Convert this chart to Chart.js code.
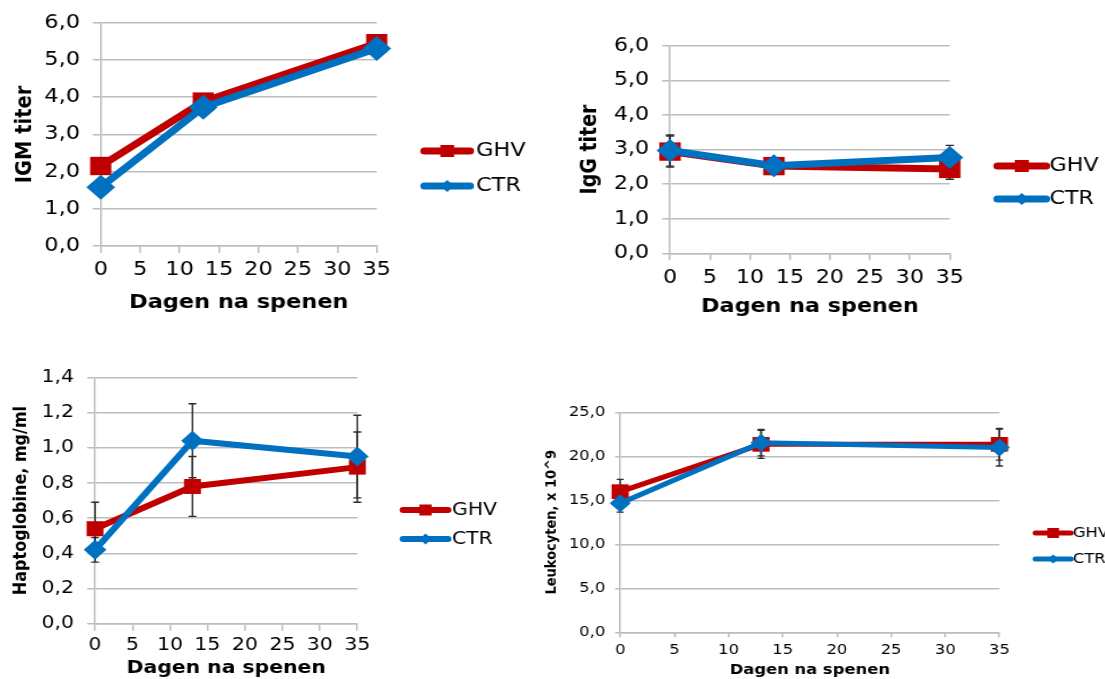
<!DOCTYPE html>
<html>
<head>
<meta charset="utf-8">
<script src="https://cdn.jsdelivr.net/npm/chart.js@4.4.1/dist/chart.umd.min.js"></script>
<style>
  html, body { margin: 0; padding: 0; background: #fff; }
  body { width: 1105px; height: 679px; overflow: hidden; position: relative; }
  .panel { position: absolute; transform-origin: 0 0; }
  .panel canvas { display: block; }
</style>
</head>
<body>
<div class="panel" id="p1"><canvas id="c1"></canvas></div>
<div class="panel" id="p2"><canvas id="c2"></canvas></div>
<div class="panel" id="p3"><canvas id="c3"></canvas></div>
<div class="panel" id="p4"><canvas id="c4"></canvas></div>
<script>
// Sampling days after weaning
const days = [0, 13, 35];
const dayTicks = [0, 5, 10, 15, 20, 25, 30, 35];
const seriesNames = ['GHV', 'CTR'];

// IgM titer
const igmGHV = [2.15, 3.88, 5.45];
const igmCTR = [1.58, 3.73, 5.31];
const igmTicks = ['0,0', '1,0', '2,0', '3,0', '4,0', '5,0', '6,0'];

// IgG titer (mean and error)
const iggGHV = [2.94, 2.52, 2.44];
const iggCTR = [2.97, 2.53, 2.77];
const iggGHVErr = [0.45, 0.15, 0.30];
const iggCTRErr = [0.45, 0.15, 0.35];
const iggTicks = ['0,0', '1,0', '2,0', '3,0', '4,0', '5,0', '6,0'];

// Haptoglobin, mg/ml (mean and error)
const haptoGHV = [0.54, 0.78, 0.89];
const haptoCTR = [0.42, 1.04, 0.95];
const haptoGHVErr = [0.15, 0.17, 0.20];
const haptoCTRErr = [0.07, 0.21, 0.235];
const haptoTicks = ['0,0', '0,2', '0,4', '0,6', '0,8', '1,0', '1,2', '1,4'];

// Leukocytes, x 10^9 (mean and error)
const leukoGHV = [15.98, 21.36, 21.36];
const leukoCTR = [14.66, 21.55, 21.0];
const leukoGHVErr = [1.4, 1.6, 1.8];
const leukoCTRErr = [1.0, 1.5, 2.1];
const leukoTicks = ['0,0', '5,0', '10,0', '15,0', '20,0', '25,0'];

const RED = '#C00000';
const BLUE = '#0070C0';
const GRID = '#bdbdbd';
const FONT = "'DejaVu Sans', Verdana, sans-serif";

Chart.defaults.font.family = FONT;
Chart.defaults.color = '#000';

// Vertical error bars with caps, drawn underneath the lines and markers
const errorBars = {
  id: 'errorBars',
  beforeDatasetsDraw(chart, args, opts) {
    const ctx = chart.ctx, xs = chart.scales.x, ys = chart.scales.y;
    ctx.save();
    ctx.strokeStyle = opts.color || '#333';
    ctx.lineWidth = opts.width || 1.3;
    chart.data.datasets.forEach(ds => {
      if (!ds.errors) return;
      ds.data.forEach((p, i) => {
        const e = ds.errors[i];
        if (!e) return;
        const x = xs.getPixelForValue(p.x);
        const yt = ys.getPixelForValue(p.y + e);
        const yb = ys.getPixelForValue(p.y - e);
        const c = opts.cap || 3.5;
        ctx.beginPath();
        ctx.moveTo(x, yt); ctx.lineTo(x, yb);
        ctx.moveTo(x - c, yt); ctx.lineTo(x + c, yt);
        ctx.moveTo(x - c, yb); ctx.lineTo(x + c, yb);
        ctx.stroke();
      });
    });
    ctx.restore();
  }
};

// Legend placed to the right of the plot: line sample with marker, then the name
const sideLegend = {
  id: 'sideLegend',
  afterDraw(chart, args, o) {
    if (!o || !o.ys) return;
    const ctx = chart.ctx;
    ctx.save();
    chart.data.datasets.forEach((ds, i) => {
      const y = o.ys[i];
      ctx.strokeStyle = ds.borderColor;
      ctx.lineWidth = o.lineWidth;
      ctx.lineCap = 'round';
      ctx.beginPath();
      ctx.moveTo(o.x0, y); ctx.lineTo(o.x1, y);
      ctx.stroke();
      const cx = (o.x0 + o.x1) / 2;
      ctx.fillStyle = ds.borderColor;
      ctx.beginPath();
      if (ds.pointStyle === 'rect') {
        ctx.rect(cx - o.sq / 2, y - o.sq / 2, o.sq, o.sq);
      } else {
        ctx.moveTo(cx, y - o.dia); ctx.lineTo(cx + o.dia, y);
        ctx.lineTo(cx, y + o.dia); ctx.lineTo(cx - o.dia, y);
        ctx.closePath();
      }
      ctx.fill();
      ctx.fillStyle = '#000';
      ctx.font = o.size + 'px ' + FONT;
      ctx.textAlign = 'left';
      ctx.textBaseline = 'middle';
      ctx.fillText(ds.label, o.tx, y);
    });
    ctx.restore();
  }
};

function points(values) {
  return values.map((v, i) => ({ x: days[i], y: v }));
}

function parseTick(label) {
  return parseFloat(label.replace(',', '.'));
}

function makeChart(spec, ghv, ctr, ghvErr, ctrErr, yLabels) {
  const wrap = document.getElementById(spec.wrap);
  wrap.style.left = spec.left + 'px';
  wrap.style.top = spec.top + 'px';
  wrap.style.transform = 'scaleX(' + spec.sx + ')';
  const canvas = document.getElementById(spec.canvas);
  canvas.width = spec.w; canvas.height = spec.h;
  canvas.style.width = spec.w + 'px'; canvas.style.height = spec.h + 'px';
  const a = spec.area;
  const yValues = yLabels.map(parseTick);

  return new Chart(canvas, {
    type: 'line',
    data: {
      datasets: [
        {
          label: seriesNames[0], data: points(ghv), errors: ghvErr,
          borderColor: RED, backgroundColor: RED, borderWidth: spec.lw,
          pointStyle: 'rect', pointRadius: spec.sqR, pointHoverRadius: spec.sqR,
          pointBackgroundColor: RED, pointBorderWidth: 0, order: 1, clip: false
        },
        {
          label: seriesNames[1], data: points(ctr), errors: ctrErr,
          borderColor: BLUE, backgroundColor: BLUE, borderWidth: spec.lw,
          pointStyle: 'rectRot', pointRadius: spec.diaR, pointHoverRadius: spec.diaR,
          pointBackgroundColor: BLUE, pointBorderWidth: 0, order: 0, clip: false
        }
      ]
    },
    options: {
      responsive: false,
      animation: false,
      devicePixelRatio: 1,
      events: [],
      layout: { padding: { left: 0, top: a.t, right: spec.w - a.r, bottom: 0 } },
      plugins: {
        legend: { display: false },
        tooltip: { enabled: false },
        errorBars: { color: '#2b2b2b', width: 1.4, cap: spec.cap },
        sideLegend: spec.legend
      },
      scales: {
        x: {
          type: 'linear', min: 0, max: 35,
          afterBuildTicks: s => { s.ticks = dayTicks.map(v => ({ value: v })); },
          afterFit: s => { s.height = spec.h - a.b; },
          grid: { drawOnChartArea: false, drawTicks: true, tickLength: spec.xTick[0], color: GRID, lineWidth: 1.5 },
          border: { display: true, color: GRID, width: 1.5 },
          ticks: { padding: spec.xTick[1], maxRotation: 0, autoSkip: false, font: { size: spec.tickSize }, color: '#000' },
          title: { display: true, text: 'Dagen na spenen', font: { size: spec.xTitleSize, weight: 'bold' }, padding: { top: 0, bottom: spec.xTitlePad }, color: '#000' }
        },
        y: {
          type: 'linear', min: yValues[0], max: yValues[yValues.length - 1],
          afterBuildTicks: s => { s.ticks = yValues.map(v => ({ value: v })); },
          afterFit: s => { s.width = a.l; },
          grid: { drawTicks: true, tickLength: spec.yTick[0], color: GRID, lineWidth: 1.5 },
          border: { display: true, color: GRID, width: 1.5 },
          ticks: { padding: spec.yTick[1], autoSkip: false, font: { size: spec.tickSize }, color: '#000',
                   callback: (v, i) => yLabels[i] },
          title: { display: true, text: spec.yTitle, font: { size: spec.yTitleSize, weight: 'bold' }, padding: { top: spec.yTitlePad, bottom: 0 }, color: '#000' }
        }
      }
    },
    plugins: [errorBars, sideLegend]
  });
}

makeChart({
  wrap: 'p1', canvas: 'c1', left: 0, top: 0, sx: 1.15, w: 470, h: 330,
  area: { l: 87.6, r: 327.6, t: 21, b: 246 },
  yTick: [7, 11], xTick: [7, 5.3], tickSize: 19.5, xTitleSize: 19.5, yTitleSize: 19.5,
  yTitle: 'IGM titer', yTitlePad: 10, xTitlePad: 15.3,
  lw: 7, sqR: 13, diaR: 12.5, cap: 3.5,
  legend: { x0: 369, x1: 408.7, tx: 414, ys: [151, 186], size: 19.5, lineWidth: 7, sq: 12, dia: 6 }
}, igmGHV, igmCTR, null, null, igmTicks);

makeChart({
  wrap: 'p2', canvas: 'c2', left: 575, top: 0, sx: 1.17, w: 455, h: 330,
  area: { l: 81.2, r: 320.3, t: 45.7, b: 253.3 },
  yTick: [6.8, 11], xTick: [7, 6.6], tickSize: 19, xTitleSize: 19, yTitleSize: 19,
  yTitle: 'IgG titer', yTitlePad: 1.8, xTitlePad: 11.6,
  lw: 7, sqR: 13, diaR: 11.5, cap: 3.5,
  legend: { x0: 361.1, x1: 402.6, tx: 405.5, ys: [166, 199], size: 19, lineWidth: 7, sq: 12, dia: 6 }
}, iggGHV, iggCTR, iggGHVErr, iggCTRErr, iggTicks);

makeChart({
  wrap: 'p3', canvas: 'c3', left: 0, top: 355, sx: 1.13, w: 450, h: 324,
  area: { l: 84.1, r: 316.2, t: 15.7, b: 268.7 },
  yTick: [7, 11.6], xTick: [7, 3.5], tickSize: 18, xTitleSize: 18, yTitleSize: 16,
  yTitle: 'Haptoglobine, mg/ml', yTitlePad: 9.6, xTitlePad: 0,
  lw: 6, sqR: 10.6, diaR: 10, cap: 3.5,
  legend: { x0: 356.6, x1: 396.5, tx: 400, ys: [155, 184], size: 18, lineWidth: 6, sq: 11, dia: 5.5 }
}, haptoGHV, haptoCTR, haptoGHVErr, haptoCTRErr, haptoTicks);

makeChart({
  wrap: 'p4', canvas: 'c4', left: 530, top: 395, sx: 1.17, w: 500, h: 284,
  area: { l: 77.1, r: 401.2, t: 17.3, b: 237.3 },
  yTick: [4.4, 8.4], xTick: [5, 4.3], tickSize: 14, xTitleSize: 14, yTitleSize: 13,
  yTitle: 'Leukocyten, x 10^9', yTitlePad: 11, xTitlePad: 0,
  lw: 5, sqR: 10.4, diaR: 9, cap: 3,
  legend: { x0: 432, x1: 462.3, tx: 463.9, ys: [138, 164], size: 14, lineWidth: 5, sq: 10, dia: 4.5 }
}, leukoGHV, leukoCTR, leukoGHVErr, leukoCTRErr, leukoTicks);
</script>
</body>
</html>
